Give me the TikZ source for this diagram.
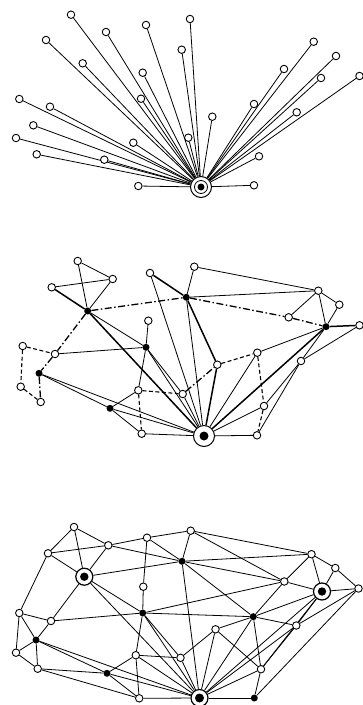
\documentclass[tikz,border=0pt]{standalone}
\usetikzlibrary{backgrounds}
\begin{document}
\begin{tikzpicture}[x=1pt,y=-1pt,
  oc/.style={circle,draw,fill=white,inner sep=0pt,minimum size=7.5pt,line width=0.9pt},
  bc/.style={circle,fill=black,inner sep=0pt,minimum size=7pt},
  hubo/.style={circle,draw,fill=white,inner sep=0pt,minimum size=#1,line width=1pt},
  ln/.style={line width=0.8pt},
  tk/.style={line width=1.5pt},
  dd/.style={line width=1.3pt,dash pattern=on 7pt off 2.5pt on 1.5pt off 2.5pt},
  ds/.style={line width=1.1pt,dash pattern=on 4pt off 2.5pt}]
\useasboundingbox (0,0) rectangle (363,705);
% ---------------- top: star ----------------
\node[hubo=21pt] (h1) at (201,187) {};
\draw[line width=0.8pt] (h1) circle (6.5pt);
\fill (h1) circle (3.5pt);
\foreach \n/\x/\y in {t1/71/14.7,t2/106/32,t3/146/25,t4/190/19,t5/46/40,t6/181.7/49.7,
  t7/82.7/63.3,t8/142.7/72.7,t9/19.3/99,t10/141/98.7,t11/50/106.7,t12/33.3/125.3,
  t13/16/138,t14/133.3/142.7,t15/188.3/137.7,t16/212.3/116.7,t17/36.7/154.3,
  t18/104.3/159.7,t19/138.3/186,t20/254/185.3,t21/259/156.3,t22/296.7/112.3,
  t23/254/104,t24/284/69,t25/313.7/41.7,t26/336/56,t27/321/78,t28/359.5/76}
  \node[oc] (\n) at (\x,\y) {};
% ---------------- middle: hierarchical ----------------
\node[hubo=21pt] (A) at (204,436) {};
\fill (A) circle (4.5pt);
\foreach \n/\x/\y in {F1/87.7/311,F2/186.3/297.3,F3/326/326.7,F4/146/347.3,F5/39/373.3,F6/110/408.3}
  \node[bc] (\n) at (\x,\y) {};
\foreach \n/\x/\y in {o1/77.7/261,o2/112.7/279,o3/51.7/287.3,o4/150/273,o5/194.3/266.7,
  o6/318.3/290.7,o7/339.3/304.7,o8/288.7/317.3,o9/359.5/325.3,o10/148.3/320.7,
  o11/22.7/346,o12/55/354,o13/257.3/352.7,o14/217.3/364.7,o15/301/361,o16/20.7/386.7,
  o17/40.7/402,o18/138.3/390.3,o19/182.7/394,o20/264/406,o21/141.7/433.7,o22/257/435.3}
  \node[oc] (\n) at (\x,\y) {};
% ---------------- bottom: mesh ----------------
\node[hubo=17pt,line width=1.2pt] (B) at (199.5,698) {};
\fill (B) circle (4.5pt);
\node[hubo=17pt,line width=1.2pt] (D1) at (84.3,576.7) {};
\fill (D1) circle (4.2pt);
\node[hubo=17pt,line width=1.2pt] (D2) at (322,591.5) {};
\fill (D2) circle (4.2pt);
\foreach \n/\x/\y in {K1/182/561.3,K2/142.7/613,K3/253.3/616.7,K4/36/640,K5/107/673.3,K6/254.3/698}
  \node[bc] (\n) at (\x,\y) {};
\foreach \n/\x/\y in {p1/74/527,p2/108.3/545.3,p3/147/537.7,p4/190.7/530.7,p5/48/553.3,
  p6/311.5/554.2,p7/335.3/568,p8/358.5/588.5,p9/284.3/581.5,p10/143.3/586.7,p11/19.3/613,
  p12/51/621,p13/296.3/625.5,p14/215.5/629.3,p15/16/652.7,p16/135.8/655.2,p17/180.5/657.8,
  p18/37.7/668.7,p19/261/669.2,p20/139.2/698.3}
  \node[oc] (\n) at (\x,\y) {};
% ---------------- connectors ----------------
\begin{scope}[on background layer]
\fill[white] (0,0) rectangle (363,705);
\foreach \a in {t1,t2,t3,t4,t5,t6,t7,t8,t9,t10,t11,t12,t13,t14,t15,t16,t17,t18,t19,t20,
  t21,t22,t23,t24,t25,t26,t27,t28}
  \draw[ln] (\a) -- (h1);
% middle
\foreach \a/\b in {o1/o2,o1/F1,o3/o2,F1/o2,F1/F4,F4/o10,o12/F4,F4/o18,F4/o19,F4/A,
  o18/F6,F5/F6,F5/A,F6/o21,F6/A,o21/A,o19/A,o4/A,F2/A,o5/F2,o5/o6,F2/o6,o8/o6,o6/F3,
  o6/o7,o7/F3,F3/o13,F3/o15,o9/o15,o15/o20,o15/o22,o13/A,o20/A,o22/A}
  \draw[ln] (\a) -- (\b);
\foreach \a/\b in {F1/o3,F1/A,o4/F2,F2/o14,o14/A,F3/o9,F3/A}
  \draw[tk] (\a) -- (\b);
\foreach \a/\b in {F1/F2,F2/o8,o8/F3,F1/o12,o12/F5,F5/o17,o19/o14}
  \draw[dd] (\a) -- (\b);
\foreach \a/\b in {o11/o12,o11/o16,o16/o17,o18/o19,o18/o21,o14/o13,o13/o20,o20/o22}
  \draw[ds] (\a) -- (\b);
% bottom
\foreach \a/\b in {p1/p5,p1/p2,p1/D1,p5/p2,p5/D1,p2/p3,p2/D1,p2/K1,p3/p4,p3/K1,p3/p10,
  p10/K2,p4/K1,p4/p6,p4/p9,D1/K1,K1/p6,K1/p9,K1/K3,K1/B,D1/K2,D1/p12,D1/B,p11/p5,
  p11/p12,p11/K4,p11/p15,p12/K2,p12/K4,K4/p15,K4/p18,K4/K5,K4/B,p15/p18,p18/K5,p18/p20,
  K5/p16,K5/p20,K5/B,p16/p17,p16/K2,p16/p20,p16/B,p17/p14,p17/B,K2/p9,K2/K3,K2/p17,K2/B,
  p14/K3,p14/p19,p14/B,K3/p9,K3/p13,K3/D2,K3/B,K3/p19,p6/p9,p9/D2,p6/p7,p6/D2,p7/p8,
  p7/D2,D2/p8,D2/p13,D2/p19,D2/B,p8/p13,p8/K6,p13/p19,p13/B,p19/B,p19/K6,K6/B,p20/B}
  \draw[ln] (\a) -- (\b);
\end{scope}
\end{tikzpicture}
\end{document}
